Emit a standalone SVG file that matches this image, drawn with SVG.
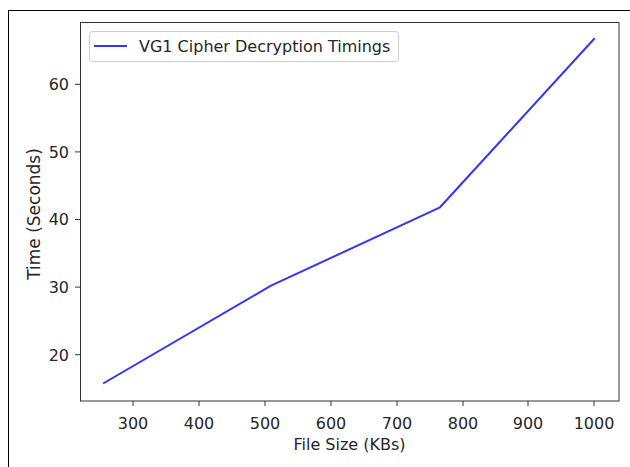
<svg xmlns="http://www.w3.org/2000/svg" width="630" height="467" viewBox="0 0 630 467">
<style>
text{font-family:"DejaVu Sans",sans-serif;font-size:16px;fill:#262626}
.tk{stroke:#333;stroke-width:1}
.xt{text-anchor:middle}
.yt{text-anchor:end}
</style>
<rect x="0" y="0" width="630" height="467" fill="#fff"/>
<rect x="8.5" y="10.5" width="700" height="500" fill="none" stroke="#000" stroke-width="1"/>
<g id="axes">
<rect x="80.5" y="22.5" width="538.5" height="378.5" fill="none" stroke="#333" stroke-width="1"/>
</g>
<g id="xticks">
<line class="tk" x1="133" y1="401" x2="133" y2="406"/><text class="xt" x="133" y="429">300</text>
<line class="tk" x1="199" y1="401" x2="199" y2="406"/><text class="xt" x="199" y="429">400</text>
<line class="tk" x1="265" y1="401" x2="265" y2="406"/><text class="xt" x="265" y="429">500</text>
<line class="tk" x1="331" y1="401" x2="331" y2="406"/><text class="xt" x="331" y="429">600</text>
<line class="tk" x1="397" y1="401" x2="397" y2="406"/><text class="xt" x="397" y="429">700</text>
<line class="tk" x1="463" y1="401" x2="463" y2="406"/><text class="xt" x="463" y="429">800</text>
<line class="tk" x1="528" y1="401" x2="528" y2="406"/><text class="xt" x="528" y="429">900</text>
<line class="tk" x1="594" y1="401" x2="594" y2="406"/><text class="xt" x="594" y="429">1000</text>
<text class="xt" x="349.5" y="450">File Size (KBs)</text>
</g>
<g id="yticks">
<line class="tk" x1="75" y1="354.7" x2="80" y2="354.7"/><text class="yt" x="69" y="360.5">20</text>
<line class="tk" x1="75" y1="287.1" x2="80" y2="287.1"/><text class="yt" x="69" y="292.9">30</text>
<line class="tk" x1="75" y1="219.5" x2="80" y2="219.5"/><text class="yt" x="69" y="225.3">40</text>
<line class="tk" x1="75" y1="151.9" x2="80" y2="151.9"/><text class="yt" x="69" y="157.7">50</text>
<line class="tk" x1="75" y1="84.3" x2="80" y2="84.3"/><text class="yt" x="69" y="90.1">60</text>
<text class="xt" style="font-size:17px" transform="translate(39.5,214) rotate(-90)">Time (Seconds)</text>
</g>
<g id="series">
<polyline points="104,383 271,285.7 440,207.3 594,39" fill="none" stroke="#0000ff" stroke-opacity="0.8" stroke-width="2" stroke-linejoin="round" stroke-linecap="square"/>
</g>
<g id="legend">
<rect x="89.5" y="31.5" width="309" height="30" rx="3" fill="#fff" fill-opacity="0.8" stroke="#ccc" stroke-width="1"/>
<line x1="94" y1="46" x2="127" y2="46" stroke="#0000ff" stroke-opacity="0.8" stroke-width="2"/>
<text x="139" y="52">VG1 Cipher Decryption Timings</text>
</g>
</svg>
